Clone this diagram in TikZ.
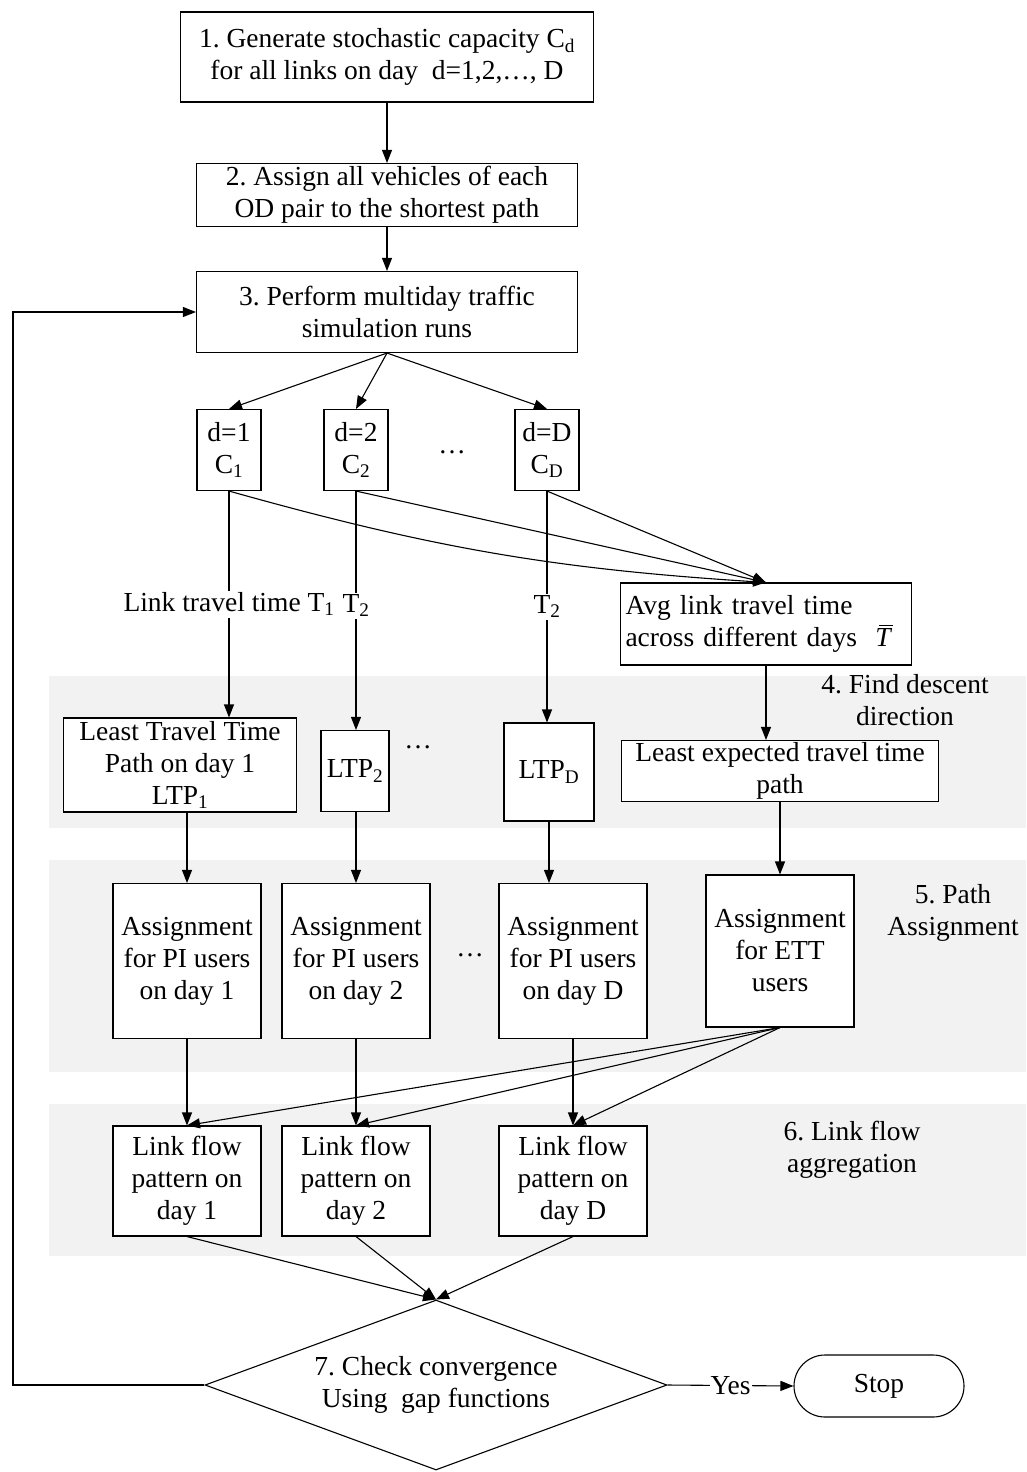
\documentclass[tikz,border=0pt]{standalone}
\usepackage{fontspec}
\setmainfont{Liberation Serif}
\usetikzlibrary{arrows.meta,shapes.geometric}
\definecolor{bandgray}{RGB}{242,242,242}
\frenchspacing

\begin{document}
\begin{tikzpicture}[x=1pt, y=-1pt, line width=1.1pt,
    every node/.style={font=\fontsize{27.5}{32}\selectfont},
    box/.style={draw, fill=white, align=center, inner sep=0pt},
    band/.style={fill=bandgray, draw=none},
    arr/.style={-{Triangle[length=13pt,width=10pt]}}]
    \useasboundingbox (0,0) rectangle (1026,1472);

    % shaded stages
    \fill[band] (49,676) rectangle (1026,828);
    \fill[band] (49,860) rectangle (1026,1072);
    \fill[band] (49,1104) rectangle (1026,1256);
    \node[align=center] (stage4) at (905,700) {4. Find descent\\direction};
    \node[align=center] (stage5) at (953,913) {5. Path\\Assignment};
    \node[align=center] (stage6) at (852,1150) {6. Link flow\\aggregation};

    \node[box, minimum width=413pt, minimum height=90pt] (gen) at (387,57) {1. Generate stochastic capacity C\textsubscript{d}\\for all links on day~ d=1,2,\ldots, D};
    \node[box, minimum width=381pt, minimum height=63pt] (init) at (387,195) {2. Assign all vehicles of each\\OD pair to the shortest path};
    \node[box, minimum width=381pt, minimum height=81pt] (sim) at (387,312) {3. Perform multiday traffic\\simulation runs};

    \node[box, minimum width=64pt, minimum height=81pt] (d1) at (229,450) {d=1\\C\textsubscript{1}};
    \node[box, minimum width=64pt, minimum height=81pt] (d2) at (356,450) {d=2\\C\textsubscript{2}};
    \node (dots1) at (452,452) {\ldots};
    \node[box, minimum width=64pt, minimum height=81pt] (dD) at (547,450) {d=D\\C\textsubscript{D}};

    \node[box, align=left, text width=281pt, inner xsep=5pt, minimum height=82pt] (avg) at (766,624) {Avg link travel time\\across different days~ \rlap{\itshape T}\hspace{0.12em}\raisebox{0.74em}{\rule{0.5em}{0.05em}}};

    \node[box, minimum width=233pt, minimum height=94pt] (ltt) at (180,765) {Least Travel Time\\Path on day 1\\LTP\textsubscript{1}};
    \node[box, minimum width=68pt, minimum height=81pt] (ltp2) at (355,771) {LTP\textsubscript{2}};
    \node (dots2) at (418,747) {\ldots};
    \node[box, minimum width=90pt, minimum height=98pt] (ltpD) at (549,772) {LTP\textsubscript{D}};
    \node[box, minimum width=317pt, minimum height=61pt] (lett) at (780,771) {Least expected travel time\\path};

    \node[box, minimum width=148pt, minimum height=155pt] (a1) at (187,961) {Assignment\\for PI users\\on day 1};
    \node[box, minimum width=148pt, minimum height=155pt] (a2) at (356,961) {Assignment\\for PI users\\on day 2};
    \node (dots3) at (470,955) {\ldots};
    \node[box, minimum width=148pt, minimum height=155pt] (aD) at (573,961) {Assignment\\for PI users\\on day D};
    \node[box, minimum width=148pt, minimum height=152pt] (aett) at (780,951) {Assignment\\for ETT\\users};

    \node[box, minimum width=148pt, minimum height=110pt] (l1) at (187,1181) {Link flow\\pattern on\\day 1};
    \node[box, minimum width=148pt, minimum height=110pt] (l2) at (356,1181) {Link flow\\pattern on\\day 2};
    \node[box, minimum width=148pt, minimum height=110pt] (lD) at (573,1181) {Link flow\\pattern on\\day D};

    \node[draw, diamond, aspect=2.7, inner sep=0pt, minimum width=462pt, minimum height=170pt, align=center] (check) at (436,1385) {7. Check convergence\\Using~ gap functions};
    \node[box, rounded corners=31pt, minimum width=170pt, minimum height=62pt] (stop) at (879,1386) {Stop};

    \draw[arr] (gen) -- (init);
    \draw[arr] (init) -- (sim);
    \draw[arr] (sim.south) -- (d1.north);
    \draw[arr] (sim.south) -- (d2.north);
    \draw[arr] (sim.south) -- (dD.north);

    \draw[arr] (d1.south) to[bend right=6] (avg.north);
    \draw[arr] (d2.south) -- (avg.north);
    \draw[arr] (dD.south) -- (avg.north);

    \draw[arr] (d1.south) -- node[fill=white, inner sep=2pt] {Link travel time T\textsubscript{1}} (d1.south |- ltt.north);
    \draw[arr] (d2.south) -- node[fill=white, inner sep=2pt, pos=0.48] {T\textsubscript{2}} (d2.south |- ltp2.north);
    \draw[arr] (dD.south) -- node[fill=white, inner sep=2pt] {T\textsubscript{2}} (dD.south |- ltpD.north);
    \draw[arr] (avg.south) -- (avg.south |- lett.north);

    \draw[arr] (ltt.south -| a1.north) -- (a1.north);
    \draw[arr] (ltp2.south -| a2.north) -- (a2.north);
    \draw[arr] (ltpD.south) -- (ltpD.south |- aD.north);
    \draw[arr] (lett) -- (aett);

    \draw[arr] (a1) -- (l1);
    \draw[arr] (a2) -- (l2);
    \draw[arr] (aD) -- (lD);
    \draw[arr] (aett.south) -- (l1.north);
    \draw[arr] (aett.south) -- (l2.north);
    \draw[arr] (aett.south) -- (lD.north);

    \draw[arr] (l1.south) -- (check.north);
    \draw[arr] (l2.south) -- (check.north);
    \draw[arr] (lD.south) -- (check.north);

    \draw[arr] (check.east) -- node[fill=white, inner sep=1pt] {Yes} (stop.west);
    \draw[arr] (check.west) -- (13,1385) |- (sim.west);
\end{tikzpicture}
\end{document}
